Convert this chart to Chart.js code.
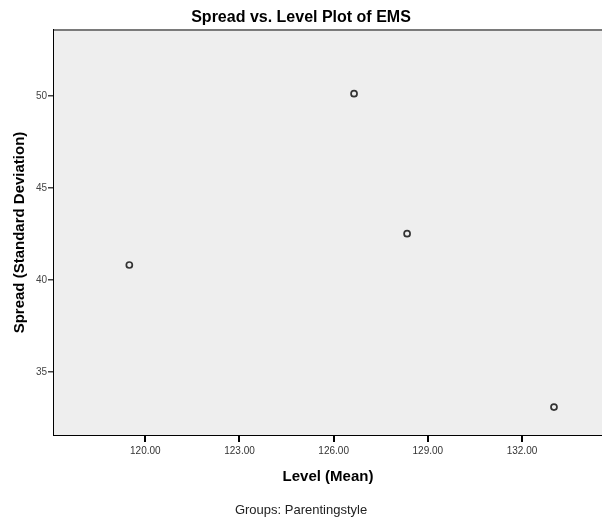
<!DOCTYPE html>
<html>
<head>
<meta charset="utf-8">
<script src="https://cdn.jsdelivr.net/npm/chart.js@4.4.0/dist/chart.umd.min.js"></script>
<style>
html,body{margin:0;padding:0;background:#fff;}
canvas{display:block;}
</style>
</head>
<body>
<canvas id="c" width="602" height="519"></canvas>
<script>
// Data
const levelMean = [119.49, 126.65, 128.34, 133.02];
const spreadSD  = [40.82, 50.13, 42.52, 33.10];
const xTicks = [120, 123, 126, 129, 132];
const xTickLabels = ['120.00', '123.00', '126.00', '129.00', '132.00'];
const yTicks = [35, 40, 45, 50];
const yTickLabels = ['35', '40', '45', '50'];

const chartTitle = 'Spread vs. Level Plot of EMS';
const xTitle = 'Level (Mean)';
const yTitle = 'Spread (Standard Deviation)';
const footNote = 'Groups: Parentingstyle';

const points = levelMean.map((x, i) => ({x: x, y: spreadSD[i]}));

const areaPlugin = {
  id: 'areaPlugin',
  beforeDatasetsDraw(chart) {
    const {ctx, chartArea: a} = chart;
    ctx.save();
    ctx.fillStyle = '#eeeeee';
    ctx.fillRect(a.left, a.top, a.right - a.left, a.bottom - a.top);
    ctx.strokeStyle = '#7a7a7a';
    ctx.lineWidth = 2;
    ctx.beginPath();
    ctx.moveTo(a.left, a.top);
    ctx.lineTo(a.right, a.top);
    ctx.stroke();
    ctx.restore();
  }
};

const fontFamily = '"Liberation Sans", Arial, sans-serif';

new Chart(document.getElementById('c'), {
  type: 'scatter',
  data: {
    datasets: [{
      data: points,
      pointRadius: 3,
      pointHoverRadius: 3,
      pointBorderWidth: 1.7,
      pointBorderColor: '#333333',
      pointBackgroundColor: 'rgba(0,0,0,0)'
    }]
  },
  options: {
    responsive: false,
    animation: false,
    devicePixelRatio: 1,
    layout: {padding: 0, autoPadding: false},
    plugins: {
      legend: {display: false},
      tooltip: {enabled: false},
      title: {
        display: true,
        text: chartTitle,
        color: '#000',
        font: {family: fontFamily, size: 16, weight: 'bold', lineHeight: 1.2},
        padding: {top: 8.4, bottom: 2.4}
      },
      subtitle: {
        display: true,
        position: 'bottom',
        text: footNote,
        color: '#222',
        font: {family: fontFamily, size: 13, weight: 'normal', lineHeight: 1.2},
        padding: {top: 4, bottom: 1.2}
      }
    },
    scales: {
      x: {
        type: 'linear',
        position: 'bottom',
        min: 117.09,
        max: 134.55,
        afterBuildTicks(scale) { scale.ticks = xTicks.map(v => ({value: v})); },
        afterFit(scale) { scale.height = 63.2; scale.paddingLeft = 0; scale.paddingRight = 0; },
        ticks: {
          color: '#333',
          font: {family: fontFamily, size: 10},
          padding: 3,
          autoSkip: false,
          maxRotation: 0,
          callback: (v) => xTickLabels[xTicks.indexOf(v)]
        },
        grid: {drawOnChartArea: false, drawTicks: true, tickLength: 7, color: '#000', lineWidth: 2},
        border: {display: true, color: '#000', width: 2},
        title: {
          display: true,
          text: xTitle,
          color: '#000',
          font: {family: fontFamily, size: 15, weight: 'bold', lineHeight: 1.2},
          padding: {top: 0, bottom: 12.2}
        }
      },
      y: {
        type: 'linear',
        position: 'left',
        min: 31.58,
        max: 53.59,
        afterBuildTicks(scale) { scale.ticks = yTicks.map(v => ({value: v})); },
        afterFit(scale) { scale.width = 54; scale.paddingTop = 0; scale.paddingBottom = 0; },
        ticks: {
          color: '#444',
          font: {family: fontFamily, size: 10},
          padding: 1,
          autoSkip: false,
          callback: (v) => yTickLabels[yTicks.indexOf(v)]
        },
        grid: {drawOnChartArea: false, drawTicks: true, tickLength: 6, color: '#444', lineWidth: 1.5},
        border: {display: true, color: '#000', width: 2},
        title: {
          display: true,
          text: yTitle,
          color: '#000',
          font: {family: fontFamily, size: 15, weight: 'bold', lineHeight: 1.2},
          padding: {top: 11, bottom: 0}
        }
      }
    }
  },
  plugins: [areaPlugin]
});
</script>
</body>
</html>
